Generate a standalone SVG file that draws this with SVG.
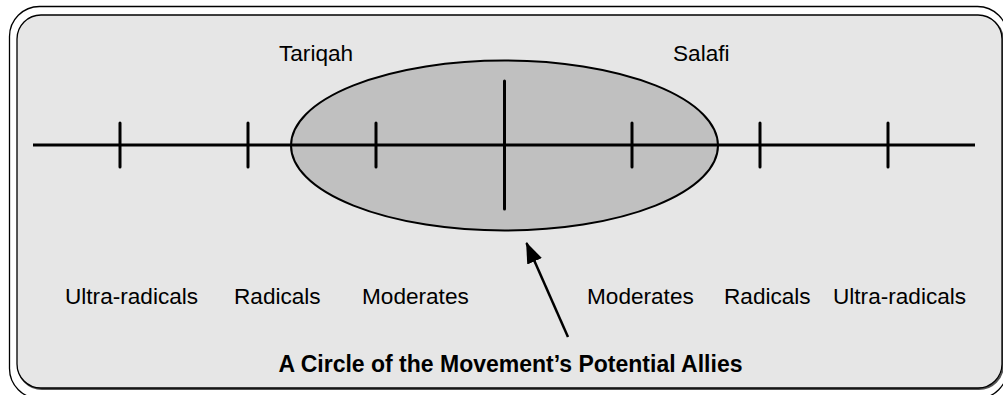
<svg xmlns="http://www.w3.org/2000/svg" width="1003" height="395" viewBox="0 0 1003 395">
  <style>
    .lbl { font-family: "Liberation Sans", Arial, sans-serif; font-size: 22.6px; fill: #000; }
    .title { font-family: "Liberation Sans", Arial, sans-serif; font-size: 23px; font-weight: bold; fill: #000; }
    .tick { stroke: #000; stroke-width: 3; stroke-linecap: round; }
  </style>
  <defs>
    <marker id="arrowHead" viewBox="0 0 21 16" refX="20" refY="8" markerWidth="21" markerHeight="16" markerUnits="userSpaceOnUse" orient="auto">
      <path d="M0,0 L21,8 L0,16 z" fill="#000"/>
    </marker>
  </defs>

  <g id="frame">
    <rect x="9.5" y="6.5" width="998" height="392" rx="30" ry="30" fill="#fff" stroke="#000" stroke-width="1.3"/>
    <rect x="18" y="16.5" width="985" height="372.5" rx="24" ry="24" fill="none" stroke="#555" stroke-width="2"/>
    <rect x="17" y="15" width="985" height="373" rx="24" ry="24" fill="#e6e6e6" stroke="#000" stroke-width="1.3"/>
  </g>

  <g id="allies-ellipse">
    <ellipse cx="504.5" cy="145.5" rx="213.5" ry="85" fill="#c0c0c0" stroke="#000" stroke-width="2"/>
  </g>

  <g id="spectrum-axis">
    <line x1="33" y1="145" x2="975" y2="145" stroke="#000" stroke-width="3"/>
    <line class="tick" x1="120" y1="123" x2="120" y2="167"/>
    <line class="tick" x1="248" y1="123" x2="248" y2="167"/>
    <line class="tick" x1="376" y1="123" x2="376" y2="167"/>
    <line class="tick" x1="504.5" y1="81" x2="504.5" y2="209"/>
    <line class="tick" x1="632" y1="123" x2="632" y2="167"/>
    <line class="tick" x1="760" y1="123" x2="760" y2="167"/>
    <line class="tick" x1="888" y1="123" x2="888" y2="167"/>
  </g>

  <g id="label-tariqah"><text class="lbl" x="279" y="61">Tariqah</text></g>
  <g id="label-salafi"><text class="lbl" x="673" y="61">Salafi</text></g>

  <g id="label-ultra-left"><text class="lbl" x="65" y="304">Ultra-radicals</text></g>
  <g id="label-radicals-left"><text class="lbl" x="234" y="304">Radicals</text></g>
  <g id="label-moderates-left"><text class="lbl" x="362" y="304">Moderates</text></g>
  <g id="label-moderates-right"><text class="lbl" x="587" y="304">Moderates</text></g>
  <g id="label-radicals-right"><text class="lbl" x="724" y="304">Radicals</text></g>
  <g id="label-ultra-right"><text class="lbl" x="833" y="304">Ultra-radicals</text></g>

  <g id="label-title"><text class="title" x="510.5" y="372" text-anchor="middle">A Circle of the Movement’s Potential Allies</text></g>

  <g id="connectors">
    <line x1="568" y1="337" x2="526.5" y2="243" stroke="#000" stroke-width="2.5" marker-end="url(#arrowHead)"/>
  </g>
</svg>
